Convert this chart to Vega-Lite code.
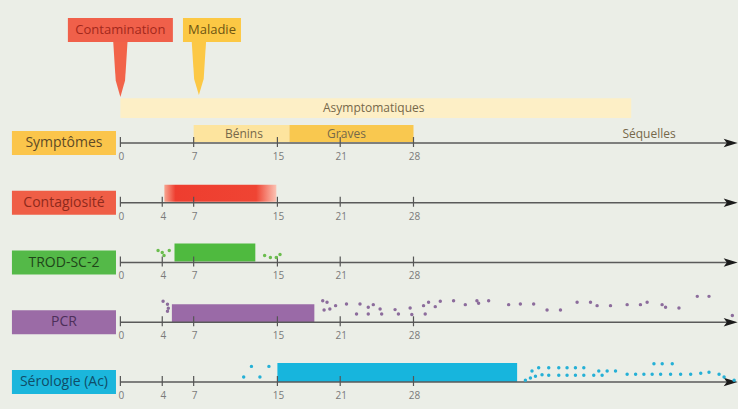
{
  "$schema": "https://vega.github.io/schema/vega-lite/v6.json",
  "width": 738,
  "height": 409,
  "autosize": "none",
  "padding": 0,
  "background": "#ebeee7",
  "config": {"view": {"stroke": null}, "font": "Open Sans"},
  "datasets": {
    "bands": [
      {"name": "Asymptomatiques", "day": 0, "day2": 48.8, "row": 0, "lo": 25, "hi": 45},
      {"name": "Bénins", "day": 7, "day2": 16.15, "row": 0, "lo": 1, "hi": 18},
      {"name": "Graves", "day": 16.15, "day2": 28, "row": 0, "lo": 1, "hi": 18},
      {"name": "TROD-SC-2", "day": 5.17, "day2": 12.89, "row": 2, "lo": 1, "hi": 19},
      {"name": "PCR", "day": 4.92, "day2": 18.53, "row": 3, "lo": 0, "hi": 18},
      {"name": "Sérologie (Ac)", "day": 15, "day2": 37.9, "row": 4, "lo": 0, "hi": 19}
    ],
    "contagion": [
      {"name": "Contagiosité", "day": 4.2, "day2": 14.9, "row": 1, "lo": 1, "hi": 18}
    ],
    "labels": [
      {"name": "Symptômes", "row": 0},
      {"name": "Contagiosité", "row": 1},
      {"name": "TROD-SC-2", "row": 2},
      {"name": "PCR", "row": 3},
      {"name": "Sérologie (Ac)", "row": 4}
    ],
    "rows": [{"row": 0}, {"row": 1}, {"row": 2}, {"row": 3}, {"row": 4}],
    "ticks": [
      {"row": 0, "day": 0}, {"row": 0, "day": 7}, {"row": 0, "day": 15}, {"row": 0, "day": 21}, {"row": 0, "day": 28},
      {"row": 1, "day": 0}, {"row": 1, "day": 4}, {"row": 1, "day": 7}, {"row": 1, "day": 15}, {"row": 1, "day": 21}, {"row": 1, "day": 28},
      {"row": 2, "day": 0}, {"row": 2, "day": 4}, {"row": 2, "day": 7}, {"row": 2, "day": 15}, {"row": 2, "day": 21}, {"row": 2, "day": 28},
      {"row": 3, "day": 0}, {"row": 3, "day": 4}, {"row": 3, "day": 7}, {"row": 3, "day": 15}, {"row": 3, "day": 21}, {"row": 3, "day": 28},
      {"row": 4, "day": 0}, {"row": 4, "day": 4}, {"row": 4, "day": 7}, {"row": 4, "day": 15}, {"row": 4, "day": 21}, {"row": 4, "day": 28}
    ],
    "bandtext": [
      {"text": "Asymptomatiques", "day": 24.2, "row": 0, "h": 35},
      {"text": "Bénins", "day": 11.8, "row": 0, "h": 9},
      {"text": "Graves", "day": 21.6, "row": 0, "h": 9},
      {"text": "Séquelles", "day": 50.5, "row": 0, "h": 9}
    ],
    "markers": [
      {"name": "Contamination", "day": 0, "center": 0},
      {"name": "Maladie", "day": 7.5, "center": 8.75}
    ],
    "dots": [
      {"test": "TROD-SC-2", "row": 2, "day": 3.6, "h": 12},
      {"test": "TROD-SC-2", "row": 2, "day": 4.0, "h": 10},
      {"test": "TROD-SC-2", "row": 2, "day": 4.17, "h": 7},
      {"test": "TROD-SC-2", "row": 2, "day": 4.67, "h": 12},
      {"test": "TROD-SC-2", "row": 2, "day": 13.78, "h": 7},
      {"test": "TROD-SC-2", "row": 2, "day": 14.33, "h": 5},
      {"test": "TROD-SC-2", "row": 2, "day": 14.89, "h": 5},
      {"test": "TROD-SC-2", "row": 2, "day": 15.25, "h": 8},
      {"test": "PCR", "row": 3, "day": 4.08, "h": 21},
      {"test": "PCR", "row": 3, "day": 4.5, "h": 18},
      {"test": "PCR", "row": 3, "day": 4.58, "h": 14},
      {"test": "PCR", "row": 3, "day": 4.5, "h": 11},
      {"test": "PCR", "row": 3, "day": 19.33, "h": 21.7},
      {"test": "PCR", "row": 3, "day": 19.74, "h": 20},
      {"test": "PCR", "row": 3, "day": 19.46, "h": 12.3},
      {"test": "PCR", "row": 3, "day": 20.01, "h": 13.3},
      {"test": "PCR", "row": 3, "day": 20.56, "h": 16.7},
      {"test": "PCR", "row": 3, "day": 21.6, "h": 18.3},
      {"test": "PCR", "row": 3, "day": 22.89, "h": 18.3},
      {"test": "PCR", "row": 3, "day": 23.68, "h": 15},
      {"test": "PCR", "row": 3, "day": 24.16, "h": 17.7},
      {"test": "PCR", "row": 3, "day": 22.56, "h": 8.3},
      {"test": "PCR", "row": 3, "day": 23.68, "h": 8.3},
      {"test": "PCR", "row": 3, "day": 24.81, "h": 13.3},
      {"test": "PCR", "row": 3, "day": 24.96, "h": 8.3},
      {"test": "PCR", "row": 3, "day": 26.24, "h": 12.7},
      {"test": "PCR", "row": 3, "day": 26.56, "h": 8.3},
      {"test": "PCR", "row": 3, "day": 27.68, "h": 14.3},
      {"test": "PCR", "row": 3, "day": 27.84, "h": 7.7},
      {"test": "PCR", "row": 3, "day": 29.12, "h": 8.3},
      {"test": "PCR", "row": 3, "day": 28.96, "h": 16.7},
      {"test": "PCR", "row": 3, "day": 29.44, "h": 20},
      {"test": "PCR", "row": 3, "day": 30.08, "h": 15.7},
      {"test": "PCR", "row": 3, "day": 30.56, "h": 21},
      {"test": "PCR", "row": 3, "day": 31.83, "h": 21.7},
      {"test": "PCR", "row": 3, "day": 32.95, "h": 17.7},
      {"test": "PCR", "row": 3, "day": 34.06, "h": 21.7},
      {"test": "PCR", "row": 3, "day": 34.22, "h": 19},
      {"test": "PCR", "row": 3, "day": 35.18, "h": 21.7},
      {"test": "PCR", "row": 3, "day": 37.09, "h": 17.7},
      {"test": "PCR", "row": 3, "day": 38.21, "h": 18.3},
      {"test": "PCR", "row": 3, "day": 39.48, "h": 18.3},
      {"test": "PCR", "row": 3, "day": 40.76, "h": 12.3},
      {"test": "PCR", "row": 3, "day": 42.04, "h": 12.3},
      {"test": "PCR", "row": 3, "day": 43.63, "h": 20},
      {"test": "PCR", "row": 3, "day": 44.91, "h": 20},
      {"test": "PCR", "row": 3, "day": 45.54, "h": 16.7},
      {"test": "PCR", "row": 3, "day": 46.82, "h": 16.7},
      {"test": "PCR", "row": 3, "day": 48.41, "h": 17.7},
      {"test": "PCR", "row": 3, "day": 49.68, "h": 17.7},
      {"test": "PCR", "row": 3, "day": 50.32, "h": 20},
      {"test": "PCR", "row": 3, "day": 51.75, "h": 17.7},
      {"test": "PCR", "row": 3, "day": 52.08, "h": 15},
      {"test": "PCR", "row": 3, "day": 53.36, "h": 14.3},
      {"test": "PCR", "row": 3, "day": 55.11, "h": 26},
      {"test": "PCR", "row": 3, "day": 56.23, "h": 26},
      {"test": "PCR", "row": 3, "day": 58.46, "h": 6.7},
      {"test": "Sérologie (Ac)", "row": 4, "day": 12.52, "h": 15.7},
      {"test": "Sérologie (Ac)", "row": 4, "day": 14.19, "h": 15.7},
      {"test": "Sérologie (Ac)", "row": 4, "day": 11.78, "h": 5},
      {"test": "Sérologie (Ac)", "row": 4, "day": 13.33, "h": 5},
      {"test": "Sérologie (Ac)", "row": 4, "day": 38.69, "h": 1.7},
      {"test": "Sérologie (Ac)", "row": 4, "day": 39.17, "h": 4},
      {"test": "Sérologie (Ac)", "row": 4, "day": 39.65, "h": 5.7},
      {"test": "Sérologie (Ac)", "row": 4, "day": 40.28, "h": 7.3},
      {"test": "Sérologie (Ac)", "row": 4, "day": 40.92, "h": 6.7},
      {"test": "Sérologie (Ac)", "row": 4, "day": 41.88, "h": 6.7},
      {"test": "Sérologie (Ac)", "row": 4, "day": 42.67, "h": 6.7},
      {"test": "Sérologie (Ac)", "row": 4, "day": 43.47, "h": 6.7},
      {"test": "Sérologie (Ac)", "row": 4, "day": 44.27, "h": 6.7},
      {"test": "Sérologie (Ac)", "row": 4, "day": 45.22, "h": 6.7},
      {"test": "Sérologie (Ac)", "row": 4, "day": 46.02, "h": 6.7},
      {"test": "Sérologie (Ac)", "row": 4, "day": 39.96, "h": 14.3},
      {"test": "Sérologie (Ac)", "row": 4, "day": 40.92, "h": 14.3},
      {"test": "Sérologie (Ac)", "row": 4, "day": 41.88, "h": 14.3},
      {"test": "Sérologie (Ac)", "row": 4, "day": 42.67, "h": 14.3},
      {"test": "Sérologie (Ac)", "row": 4, "day": 43.47, "h": 14.3},
      {"test": "Sérologie (Ac)", "row": 4, "day": 44.27, "h": 14.3},
      {"test": "Sérologie (Ac)", "row": 4, "day": 39.32, "h": 11},
      {"test": "Sérologie (Ac)", "row": 4, "day": 45.7, "h": 11},
      {"test": "Sérologie (Ac)", "row": 4, "day": 46.5, "h": 11},
      {"test": "Sérologie (Ac)", "row": 4, "day": 47.3, "h": 11},
      {"test": "Sérologie (Ac)", "row": 4, "day": 48.41, "h": 7.7},
      {"test": "Sérologie (Ac)", "row": 4, "day": 49.22, "h": 7.7},
      {"test": "Sérologie (Ac)", "row": 4, "day": 50.01, "h": 7.7},
      {"test": "Sérologie (Ac)", "row": 4, "day": 50.8, "h": 7.7},
      {"test": "Sérologie (Ac)", "row": 4, "day": 51.61, "h": 7.7},
      {"test": "Sérologie (Ac)", "row": 4, "day": 52.56, "h": 7.7},
      {"test": "Sérologie (Ac)", "row": 4, "day": 53.52, "h": 7.7},
      {"test": "Sérologie (Ac)", "row": 4, "day": 54.48, "h": 7.7},
      {"test": "Sérologie (Ac)", "row": 4, "day": 55.44, "h": 8.7},
      {"test": "Sérologie (Ac)", "row": 4, "day": 56.23, "h": 9.7},
      {"test": "Sérologie (Ac)", "row": 4, "day": 57.19, "h": 7.7},
      {"test": "Sérologie (Ac)", "row": 4, "day": 50.97, "h": 18.3},
      {"test": "Sérologie (Ac)", "row": 4, "day": 51.76, "h": 18.3},
      {"test": "Sérologie (Ac)", "row": 4, "day": 52.72, "h": 18.3},
      {"test": "Sérologie (Ac)", "row": 4, "day": 57.67, "h": 5},
      {"test": "Sérologie (Ac)", "row": 4, "day": 58.63, "h": 1.7}
    ]
  },
  "encoding": {
    "x": {"field": "day", "type": "quantitative", "scale": {"domain": [-11.5, 59], "nice": false, "zero": false}, "axis": null},
    "y": {"field": "yv", "type": "quantitative", "scale": {"domain": [-143.6, 267.1], "nice": false, "zero": false, "reverse": true}, "axis": null}
  },
  "resolve": {"scale": {"color": "independent"}},
  "layer": [
    {
      "data": {"name": "bands"},
      "transform": [
        {"calculate": "datum.row * 60 - datum.hi", "as": "yv"},
        {"calculate": "datum.row * 60 - datum.lo", "as": "yv2"}
      ],
      "mark": {"type": "rect"},
      "encoding": {
        "x2": {"field": "day2"},
        "y2": {"field": "yv2"},
        "color": {"field": "name", "type": "nominal", "legend": null,
          "scale": {"domain": ["Asymptomatiques", "Bénins", "Graves", "TROD-SC-2", "PCR", "Sérologie (Ac)"],
                    "range": ["#fdefc6", "#fde49e", "#f9c84f", "#4fba3f", "#9a6aa7", "#17b5dd"]}}
      }
    },
    {
      "data": {"name": "contagion"},
      "transform": [
        {"calculate": "datum.row * 60 - datum.hi", "as": "yv"},
        {"calculate": "datum.row * 60 - datum.lo", "as": "yv2"}
      ],
      "mark": {"type": "rect", "color": {"gradient": "linear", "x1": 0, "x2": 1, "y1": 0, "y2": 0,
        "stops": [
          {"offset": 0, "color": "#f7a590"},
          {"offset": 0.1, "color": "#ee3d2f"},
          {"offset": 0.82, "color": "#ef4433"},
          {"offset": 1, "color": "#fbc3b4"}
        ]}},
      "encoding": {
        "x2": {"field": "day2"},
        "y2": {"field": "yv2"}
      }
    },
    {
      "data": {"name": "rows"},
      "transform": [
        {"calculate": "datum.row * 60", "as": "yv"},
        {"calculate": "0", "as": "day"},
        {"calculate": "58", "as": "day2"}
      ],
      "mark": {"type": "rule", "color": "#5a5a5a", "strokeWidth": 1.5},
      "encoding": {
        "x2": {"field": "day2"}
      }
    },
    {
      "data": {"name": "rows"},
      "transform": [
        {"calculate": "datum.row * 60", "as": "yv"},
        {"calculate": "58.3", "as": "day"}
      ],
      "mark": {"type": "point", "shape": "M-1,-0.6L1,0L-1,0.6L-0.55,0Z", "filled": true, "color": "#1b1b1b", "opacity": 1, "size": 196}
    },
    {
      "data": {"name": "ticks"},
      "transform": [
        {"calculate": "datum.row * 60 - 6", "as": "yv"},
        {"calculate": "datum.row * 60 + 4", "as": "yv2"}
      ],
      "mark": {"type": "rule", "color": "#555555", "strokeWidth": 1.2},
      "encoding": {"y2": {"field": "yv2"}}
    },
    {
      "data": {"name": "ticks"},
      "transform": [{"calculate": "datum.row * 60 + 14", "as": "yv"}],
      "mark": {"type": "text", "fontSize": 10, "color": "#7a7a7a", "align": "center", "baseline": "middle", "dx": 1},
      "encoding": {"text": {"field": "day", "type": "quantitative"}}
    },
    {
      "data": {"name": "dots"},
      "transform": [{"calculate": "datum.row * 60 - datum.h", "as": "yv"}],
      "mark": {"type": "point", "shape": "circle", "filled": true, "size": 12, "opacity": 1},
      "encoding": {
        "color": {"field": "test", "type": "nominal", "legend": null,
          "scale": {"domain": ["TROD-SC-2", "PCR", "Sérologie (Ac)"], "range": ["#6bbd4e", "#8c6c9c", "#25b0d6"]}}
      }
    },
    {
      "data": {"name": "bandtext"},
      "transform": [{"calculate": "datum.row * 60 - datum.h", "as": "yv"}],
      "mark": {"type": "text", "fontSize": 12, "color": "#76684a", "align": "center", "baseline": "middle"},
      "encoding": {"text": {"field": "text", "type": "nominal"}}
    },
    {
      "data": {"name": "labels"},
      "transform": [
        {"calculate": "datum.row * 60 - 12", "as": "yv"},
        {"calculate": "datum.row * 60 + 12", "as": "yv2"},
        {"calculate": "-10.36", "as": "day"},
        {"calculate": "-0.42", "as": "day2"}
      ],
      "mark": {"type": "rect"},
      "encoding": {
        "x2": {"field": "day2"},
        "y2": {"field": "yv2"},
        "color": {"field": "name", "type": "nominal", "legend": null,
          "scale": {"domain": ["Symptômes", "Contagiosité", "TROD-SC-2", "PCR", "Sérologie (Ac)"],
                    "range": ["#fbc54b", "#ef5e46", "#54b948", "#9b6ba6", "#1bb6dc"]}}
      }
    },
    {
      "data": {"name": "labels"},
      "transform": [
        {"calculate": "datum.row * 60", "as": "yv"},
        {"calculate": "-5.39", "as": "day"}
      ],
      "mark": {"type": "text", "fontSize": 14, "align": "center", "baseline": "middle"},
      "encoding": {
        "text": {"field": "name", "type": "nominal"},
        "color": {"field": "name", "type": "nominal", "legend": null,
          "scale": {"domain": ["Symptômes", "Contagiosité", "TROD-SC-2", "PCR", "Sérologie (Ac)"],
                    "range": ["#5e4a26", "#8e2a1c", "#1f4519", "#4d2f5a", "#0f4d68"]}}
      }
    },
    {
      "data": {"name": "markers"},
      "transform": [{"filter": "datum.name === 'Contamination'"}, {"calculate": "-73.8", "as": "yv"}],
      "mark": {"type": "point", "shape": "M-0.26,-1L0.26,-1L0.17,0.4L0,1L-0.17,0.4Z", "filled": true, "opacity": 1, "color": "#f26349", "size": 3025}
    },
    {
      "data": {"name": "markers"},
      "transform": [{"filter": "datum.name === 'Maladie'"}, {"calculate": "-74.8", "as": "yv"}],
      "mark": {"type": "point", "shape": "M-0.27,-1L0.27,-1L0.18,0.4L0,1L-0.18,0.4Z", "filled": true, "opacity": 1, "color": "#fcc845", "size": 2809}
    },
    {
      "data": {"name": "markers"},
      "transform": [{"filter": "datum.name === 'Contamination'"}, {"calculate": "-113.5", "as": "yv"}],
      "mark": {"type": "point", "shape": "M-1,-0.229L1,-0.229L1,0.229L-1,0.229Z", "filled": true, "opacity": 1, "color": "#f0604a", "size": 11025},
      "encoding": {"x": {"field": "center", "type": "quantitative"}}
    },
    {
      "data": {"name": "markers"},
      "transform": [{"filter": "datum.name === 'Maladie'"}, {"calculate": "-113.5", "as": "yv"}],
      "mark": {"type": "point", "shape": "M-1,-0.414L1,-0.414L1,0.414L-1,0.414Z", "filled": true, "opacity": 1, "color": "#fcc844", "size": 3364},
      "encoding": {"x": {"field": "center", "type": "quantitative"}}
    },
    {
      "data": {"name": "markers"},
      "transform": [{"calculate": "-113.5", "as": "yv"}],
      "mark": {"type": "text", "fontSize": 13, "align": "center", "baseline": "middle"},
      "encoding": {
        "x": {"field": "center", "type": "quantitative"},
        "text": {"field": "name", "type": "nominal"},
        "color": {"field": "name", "type": "nominal", "legend": null,
          "scale": {"domain": ["Contamination", "Maladie"], "range": ["#a3281c", "#6e5512"]}}
      }
    }
  ]
}
